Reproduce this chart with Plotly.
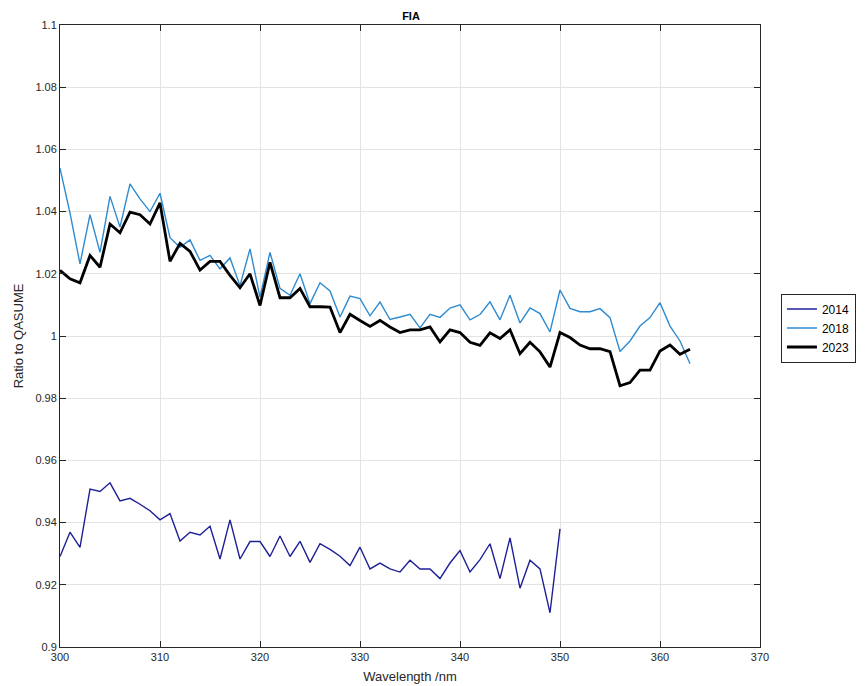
import plotly.graph_objects as go

wl_2014 = list(range(300, 351))
ratio_2014 = [0.9291, 0.9369, 0.9320, 0.9508, 0.9500, 0.9528, 0.9470, 0.9478, 0.9459, 0.9438,
              0.9409, 0.9429, 0.9341, 0.9369, 0.9360, 0.9388, 0.9283, 0.9409, 0.9283, 0.9339,
              0.9339, 0.9291, 0.9357, 0.9291, 0.9340, 0.9272, 0.9332, 0.9314, 0.9292, 0.9262,
              0.9321, 0.9251, 0.9270, 0.9251, 0.9241, 0.9279, 0.9251, 0.9251, 0.9220, 0.9270,
              0.9310, 0.9241, 0.9281, 0.9332, 0.9220, 0.9351, 0.9189, 0.9279, 0.9251, 0.9110,
              0.9380]

wl_2018 = list(range(300, 364))
ratio_2018 = [1.0540, 1.0395, 1.0232, 1.0390, 1.0269, 1.0449, 1.0350, 1.0489, 1.0441, 1.0400,
              1.0459, 1.0316, 1.0285, 1.0309, 1.0243, 1.0259, 1.0216, 1.0251, 1.0162, 1.0280,
              1.0125, 1.0269, 1.0153, 1.0131, 1.0200, 1.0104, 1.0171, 1.0145, 1.0061, 1.0128,
              1.0120, 1.0065, 1.0109, 1.0053, 1.0061, 1.0070, 1.0026, 1.0070, 1.0060, 1.0090,
              1.0100, 1.0052, 1.0069, 1.0110, 1.0052, 1.0131, 1.0042, 1.0090, 1.0072, 1.0013,
              1.0148, 1.0089, 1.0078, 1.0078, 1.0088, 1.0059, 0.9950, 0.9984, 1.0032, 1.0059,
              1.0107, 1.0032, 0.9984, 0.9911]

wl_2023 = list(range(300, 364))
ratio_2023 = [1.0211, 1.0184, 1.0171, 1.0259, 1.0221, 1.0360, 1.0332, 1.0398, 1.0390, 1.0360,
              1.0428, 1.0240, 1.0298, 1.0272, 1.0212, 1.0240, 1.0240, 1.0195, 1.0155, 1.0200,
              1.0098, 1.0237, 1.0123, 1.0123, 1.0153, 1.0094, 1.0094, 1.0093, 1.0011, 1.0070,
              1.0050, 1.0031, 1.0050, 1.0029, 1.0011, 1.0020, 1.0020, 1.0029, 0.9981, 1.0020,
              1.0011, 0.9980, 0.9970, 1.0010, 0.9992, 1.0020, 0.9943, 0.9980, 0.9949, 0.9900,
              1.0011, 0.9995, 0.9971, 0.9959, 0.9959, 0.9950, 0.9840, 0.9850, 0.9890, 0.9890,
              0.9952, 0.9971, 0.9941, 0.9957]

x_ticks = [300, 310, 320, 330, 340, 350, 360, 370]
y_ticks = [0.9, 0.92, 0.94, 0.96, 0.98, 1.0, 1.02, 1.04, 1.06, 1.08, 1.1]
y_tick_text = ["0.9", "0.92", "0.94", "0.96", "0.98", "1", "1.02", "1.04", "1.06", "1.08", "1.1"]

FONT = "Liberation Sans, Arial, sans-serif"
DARK = "#262626"

# page body has an 8px default margin, so the figure is sized/offset to compensate
W, H = 860, 678
L, R, T, B = 52, 106, 17, 39

fig = go.Figure()
fig.add_trace(go.Scatter(x=wl_2014, y=ratio_2014, mode="lines", name="2014",
                         line=dict(color="#1f1f96", width=1.4)))
fig.add_trace(go.Scatter(x=wl_2018, y=ratio_2018, mode="lines", name="2018",
                         line=dict(color="#2f8bd0", width=1.4)))
fig.add_trace(go.Scatter(x=wl_2023, y=ratio_2023, mode="lines", name="2023",
                         line=dict(color="#000000", width=2.8)))

axis_common = dict(
    showline=True, linecolor=DARK, linewidth=1, mirror="ticks",
    ticks="inside", ticklen=6, tickcolor=DARK, tickwidth=1,
    showgrid=True, gridcolor="#e3e3e3", gridwidth=1, zeroline=False,
    automargin=False,
    tickfont=dict(family=FONT, size=11, color=DARK),
)

plot_w = W - L - R
plot_h = H - T - B

fig.update_layout(
    width=W, height=H,
    margin=dict(l=L, r=R, t=T, b=B),
    paper_bgcolor="white", plot_bgcolor="white",
    title=dict(text="<b>FIA</b>", x=(L + plot_w / 2) / W, xanchor="center",
               y=1 - 8 / H, yanchor="middle",
               font=dict(family=FONT, size=11, color="#000000")),
    xaxis=dict(range=[300, 370], tickvals=x_ticks,
               title=dict(text="Wavelength /nm", standoff=9,
                          font=dict(family=FONT, size=13, color=DARK)),
               **axis_common),
    yaxis=dict(range=[0.9, 1.1], tickvals=y_ticks, ticktext=y_tick_text,
               title=dict(text="Ratio to QASUME", standoff=8,
                          font=dict(family=FONT, size=13, color=DARK)),
               **axis_common),
    legend=dict(x=(775 - L) / plot_w, xanchor="left", y=1 - (320 - T) / plot_h, yanchor="middle",
                bordercolor=DARK, borderwidth=1, bgcolor="white",
                font=dict(family=FONT, size=12, color="#000000"),
                tracegroupgap=0, itemwidth=30),
    showlegend=True,
)

fig.write_html("out.html")
